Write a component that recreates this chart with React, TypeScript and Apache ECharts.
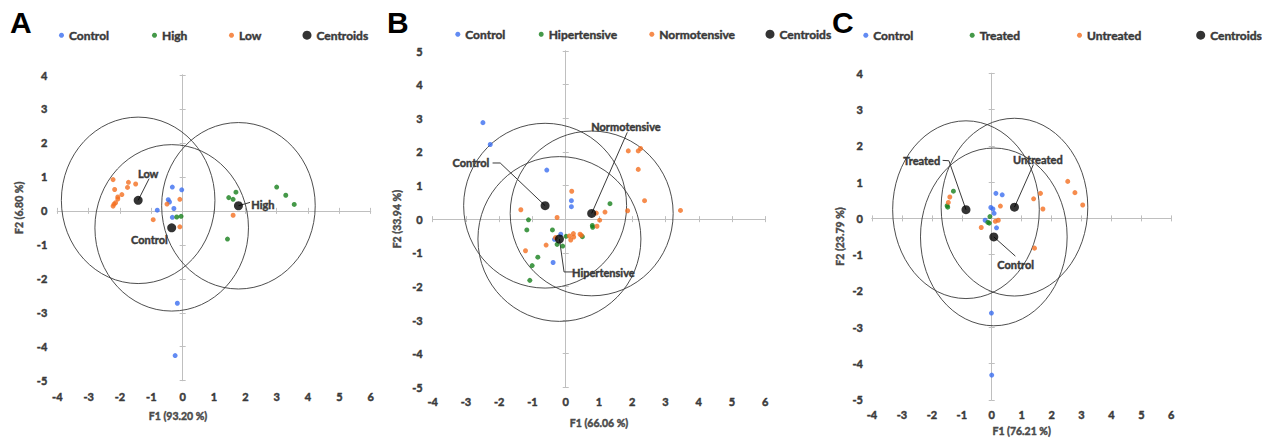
import React, { useEffect, useRef } from "react";
import * as echarts from "echarts";

const FONT = "Lato, 'Noto Sans', sans-serif";
const TXT = "#3a3a3a";
const AXIS_GRAY = "#bfbfbf";
const CIRCLE = "#3a3a3a";
const BLUE = "#3b6ef0";
const GREEN = "#17801b";
const ORANGE = "#f46f20";
const STROKE = 0.45;

const xTicks = [-4, 6];

// ---------- Panel A ----------
const aTitle = "A";
const aXName = "F1 (93.20 %)";
const aYName = "F2 (6.80 %)";
const aYRange = [-5, 4];
const aSeriesNames = ["Control", "High", "Low"];
const aControl = [[-0.33, 0.70], [-0.03, 0.62], [-0.46, 0.33], [-0.42, 0.26], [-0.28, 0.07], [-0.81, 0.02], [-0.33, -0.19], [-0.17, -2.72], [-0.24, -4.26]];
const aHigh = [[-0.19, -0.18], [-0.05, -0.16], [1.70, 0.55], [1.47, 0.39], [1.61, 0.34], [3.00, 0.70], [3.29, 0.46], [3.56, 0.19], [1.43, -0.83]];
const aLow = [[-2.22, 0.92], [-2.17, 0.63], [-1.73, 0.84], [-1.50, 0.79], [-1.76, 0.69], [-1.94, 0.48], [-2.07, 0.41], [-2.07, 0.35], [-2.14, 0.24], [-2.19, 0.20], [-2.22, 0.14], [-0.09, 0.34], [-0.50, 0.20], [-0.94, -0.26], [-0.09, -0.47], [1.61, -0.13]];
const aCentroids = [[-0.35, -0.50], [1.78, 0.15], [-1.42, 0.31]];
const aRadius = 2.45;
const aLabels = [
  { text: "Low", at: [-1.10, 1.11], line: [[-1.42, 0.31], [-1.07, 0.95]] },
  { text: "High", at: [2.56, 0.20], line: [[1.78, 0.15], [2.15, 0.25]] },
  { text: "Control", at: [-1.06, -0.84], line: [] as number[][] },
];

// ---------- Panel B ----------
const bTitle = "B";
const bXName = "F1 (66.06 %)";
const bYName = "F2 (33.94 %)";
const bYRange = [-5, 5];
const bSeriesNames = ["Control", "Hipertensive", "Normotensive"];
const bControl = [[-2.49, 2.87], [-2.27, 2.22], [-0.57, 1.46], [0.17, 0.55], [0.17, 0.37], [-0.15, -0.45], [-0.34, -0.60], [-0.38, -1.29]];
const bHiper = [[1.33, 0.46], [-1.12, -0.02], [-1.17, -0.32], [-0.40, -0.32], [0.80, -0.19], [0.81, -0.24], [0.50, -0.52], [0.01, -0.51], [-0.26, -0.75], [-0.09, -0.80], [-0.84, -1.13], [-1.01, -1.38], [-1.08, -1.82]];
const bNormo = [[1.88, 2.03], [2.18, 2.03], [2.25, 2.10], [2.18, 1.48], [2.37, 0.55], [3.45, 0.26], [1.86, 0.25], [1.18, 0.21], [0.92, 0.18], [1.02, -0.03], [0.94, -0.21], [0.18, 0.83], [-0.26, 0.05], [-1.35, 0.28], [-1.21, -0.94], [-0.59, -0.77], [-0.31, -0.55], [0.11, -0.50], [0.23, -0.43], [0.24, -0.53], [0.15, -0.62], [0.43, -0.45], [0.47, -0.48]];
const bCentroids = [[-0.62, 0.40], [-0.19, -0.59], [0.78, 0.17]];
const bRadius = 2.45;
const bLabels = [
  { text: "Normotensive", at: [1.81, 2.75], line: [[0.78, 0.17], [1.85, 2.58]] },
  { text: "Control", at: [-2.85, 1.67], line: [[-2.20, 1.67], [-1.97, 1.67], [-0.62, 0.40]] },
  { text: "Hipertensive", at: [1.13, -1.59], line: [[-0.19, -0.59], [-0.05, -1.57], [0.23, -1.57]] },
];

// ---------- Panel C ----------
const cTitle = "C";
const cXName = "F1 (76.21 %)";
const cYName = "F2 (23.79 %)";
const cYRange = [-5, 4];
const cSeriesNames = ["Control", "Treated", "Untreated"];
const cControl = [[0.14, 0.69], [0.35, 0.65], [-0.03, 0.30], [0.04, 0.26], [0.08, 0.14], [-0.22, -0.05], [0.16, -0.26], [-0.01, -2.61], [0.00, -4.32]];
const cTreated = [[-1.28, 0.75], [-1.49, 0.35], [-1.47, 0.31], [-0.06, 0.05], [-0.13, -0.11], [-0.08, -0.13]];
const cUntreated = [[-1.40, 0.59], [-1.45, 0.44], [0.29, 0.34], [1.40, 0.54], [1.63, 0.69], [1.71, 0.26], [2.54, 1.02], [2.78, 0.71], [3.04, 0.37], [-0.35, -0.25], [0.12, -0.08], [0.22, -0.05], [1.43, -0.82]];
const cCentroids = [[0.07, -0.51], [-0.86, 0.24], [0.76, 0.31]];
const cRadius = 2.45;
const cLabels = [
  { text: "Treated", at: [-2.34, 1.60], line: [[-1.64, 1.60], [-1.43, 1.59], [-0.86, 0.24]] },
  { text: "Untreated", at: [1.54, 1.62], line: [[1.39, 1.48], [0.76, 0.31]] },
  { text: "Control", at: [0.80, -1.28], line: [[0.79, -1.04], [0.07, -0.51]] },
];

type Label = { text: string; at: number[]; line: number[][] };

type Panel = {
  title: string;
  titlePos: [number, number];
  xName: string;
  yName: string;
  yRange: number[];
  names: string[];
  groups: number[][][];
  centroids: number[][];
  radius: number;
  labels: Label[];
  grid: { left: number; top: number; width: number; height: number };
  legendLefts: number[];
  legendTop: number;
  xLabelMargin: number;
  yLabelMargin: number;
  xNameGap: number;
  yNameGap: number;
  xNamePad: number[];
  yNamePad: number[];
};

const panels: Panel[] = [
  {
    title: aTitle, titlePos: [10, 7], xName: aXName, yName: aYName, yRange: aYRange,
    names: aSeriesNames, groups: [aControl, aHigh, aLow], centroids: aCentroids, radius: aRadius, labels: aLabels,
    grid: { left: 57.3, top: 75, width: 313.4, height: 305.7 },
    legendLefts: [59, 152, 229, 302.5], legendTop: 29,
    xLabelMargin: 10, yLabelMargin: 10, xNameGap: 30, yNameGap: 33,
    xNamePad: [0, 72, 0, 0], yNamePad: [0, 0, 0, 40],
  },
  {
    title: bTitle, titlePos: [387, 7], xName: bXName, yName: bYName, yRange: bYRange,
    names: bSeriesNames, groups: [bControl, bHiper, bNormo], centroids: bCentroids, radius: bRadius, labels: bLabels,
    grid: { left: 432.7, top: 51, width: 332.6, height: 336.3 },
    legendLefts: [455.3, 538.7, 649.3, 765.5], legendTop: 28,
    xLabelMargin: 9, yLabelMargin: 10, xNameGap: 30, yNameGap: 30,
    xNamePad: [0, 0, 0, 0], yNamePad: [0, 0, 0, 0],
  },
  {
    title: cTitle, titlePos: [832, 7], xName: cXName, yName: cYName, yRange: cYRange,
    names: cSeriesNames, groups: [cControl, cTreated, cUntreated], centroids: cCentroids, radius: cRadius, labels: cLabels,
    grid: { left: 872, top: 73.3, width: 299.3, height: 331 },
    legendLefts: [863.3, 969.7, 1077, 1196.2], legendTop: 29,
    xLabelMargin: 9, yLabelMargin: 9, xNameGap: 26, yNameGap: 27,
    xNamePad: [0, 0, 0, 0], yNamePad: [0, 0, 0, 0],
  },
];

const groupColors = [BLUE, GREEN, ORANGE];

function buildOption() {
  const grid: any[] = [];
  const xAxis: any[] = [];
  const yAxis: any[] = [];
  const series: any[] = [];
  const legend: any[] = [];
  const graphic: any[] = [];

  const boldText = { fontFamily: FONT, fontWeight: "bold", color: TXT, textBorderColor: TXT, textBorderWidth: STROKE };
  const labelStyle = { ...boldText, fontSize: 11 };
  const nameStyle = { ...boldText, fontSize: 10.5, color: "#4a4a4a", textBorderColor: "#4a4a4a" };

  panels.forEach((p, pi) => {
    grid.push({ ...p.grid, containLabel: false });
    const base = pi * 3;

    xAxis.push({
      type: "value", gridIndex: pi, min: xTicks[0], max: xTicks[1], interval: 1, position: "bottom",
      axisLine: { show: false, onZero: false }, axisTick: { show: false }, splitLine: { show: false },
      axisLabel: { ...labelStyle, margin: p.xLabelMargin },
      name: p.xName, nameLocation: "middle", nameGap: p.xNameGap,
      nameTextStyle: { ...nameStyle, padding: p.xNamePad },
    });
    [false, true].forEach((inside) => {
      xAxis.push({
        type: "value", gridIndex: pi, min: xTicks[0], max: xTicks[1], interval: 1, position: "bottom",
        axisLine: { show: true, onZero: true, lineStyle: { color: AXIS_GRAY, width: 1 } },
        axisTick: { show: true, inside, length: 3, lineStyle: { color: AXIS_GRAY, width: 1 } },
        axisLabel: { show: false }, splitLine: { show: false },
      });
    });

    yAxis.push({
      type: "value", gridIndex: pi, min: p.yRange[0], max: p.yRange[1], interval: 1, position: "left",
      axisLine: { show: false, onZero: false }, axisTick: { show: false }, splitLine: { show: false },
      axisLabel: { ...labelStyle, margin: p.yLabelMargin },
      name: p.yName, nameLocation: "middle", nameGap: p.yNameGap,
      nameTextStyle: { ...nameStyle, padding: p.yNamePad },
    });
    [false, true].forEach((inside) => {
      yAxis.push({
        type: "value", gridIndex: pi, min: p.yRange[0], max: p.yRange[1], interval: 1, position: "left",
        axisLine: { show: true, onZero: true, lineStyle: { color: AXIS_GRAY, width: 1 } },
        axisTick: { show: true, inside, length: 3, lineStyle: { color: AXIS_GRAY, width: 1 } },
        axisLabel: { show: false }, splitLine: { show: false },
      });
    });

    series.push({
      type: "custom", xAxisIndex: base, yAxisIndex: base, silent: true, clip: false, z: 1,
      dimensions: ["x", "y", "r"], encode: { x: 0, y: 1 },
      data: p.centroids.map((c) => [c[0], c[1], p.radius]),
      renderItem: (_params: any, api: any) => {
        const c = api.coord([api.value(0), api.value(1)]);
        const s = api.size([api.value(2), api.value(2)]);
        return {
          type: "ellipse",
          shape: { cx: c[0], cy: c[1], rx: s[0], ry: s[1] },
          style: { fill: "none", stroke: CIRCLE, lineWidth: 0.9 },
        };
      },
    });

    const labels = p.labels;
    series.push({
      type: "custom", xAxisIndex: base, yAxisIndex: base, silent: true, clip: false, z: 2,
      encode: { x: 0, y: 1 },
      data: labels.map((l) => [l.at[0], l.at[1]]),
      renderItem: (params: any, api: any) => {
        const l = labels[params.dataIndex];
        const t = api.coord(l.at);
        const children: any[] = [];
        if (l.line.length > 1) {
          children.push({
            type: "polyline",
            shape: { points: l.line.map((pt) => api.coord(pt)) },
            style: { stroke: CIRCLE, lineWidth: 1, fill: "none" },
          });
        }
        children.push({
          type: "text", x: t[0], y: t[1],
          style: {
            text: l.text, fill: TXT, fontSize: 11, fontWeight: "bold", fontFamily: FONT,
            align: "center", verticalAlign: "middle", stroke: TXT, lineWidth: STROKE,
          },
        });
        return { type: "group", children };
      },
    });

    p.groups.forEach((g, gi) => {
      series.push({
        type: "scatter", name: p.names[gi], xAxisIndex: base, yAxisIndex: base, silent: true, z: 3,
        symbol: "circle", symbolSize: 5, itemStyle: { color: groupColors[gi] }, data: g,
      });
    });
    series.push({
      type: "scatter", name: "Centroids", xAxisIndex: base, yAxisIndex: base, silent: true, z: 4,
      symbol: "circle", symbolSize: 9, itemStyle: { color: "#000" }, data: p.centroids,
    });

    [...p.names, "Centroids"].forEach((n, li) => {
      const sz = n === "Centroids" ? 9 : 5;
      legend.push({
        data: [n], left: p.legendLefts[li], top: p.legendTop, padding: 0, icon: "circle",
        itemWidth: sz, itemHeight: sz, selectedMode: false,
        textStyle: { ...boldText, fontSize: 12 },
      });
    });

    graphic.push({
      type: "text", left: p.titlePos[0], top: p.titlePos[1],
      style: { text: p.title, fill: "#000", font: "bold 30px 'Liberation Sans', Arial, sans-serif" },
    });
  });

  return { animation: false, backgroundColor: "#fff", grid, xAxis, yAxis, series, legend, graphic };
}

export default function App() {
  const ref = useRef<HTMLDivElement>(null);
  useEffect(() => {
    if (!ref.current) return;
    const chart = echarts.init(ref.current, undefined, { renderer: "svg" });
    chart.setOption(buildOption() as any);
    return () => chart.dispose();
  }, []);
  return <div ref={ref} style={{ position: "absolute", left: 0, top: 0, width: 1262, height: 442, background: "#fff" }} />;
}
